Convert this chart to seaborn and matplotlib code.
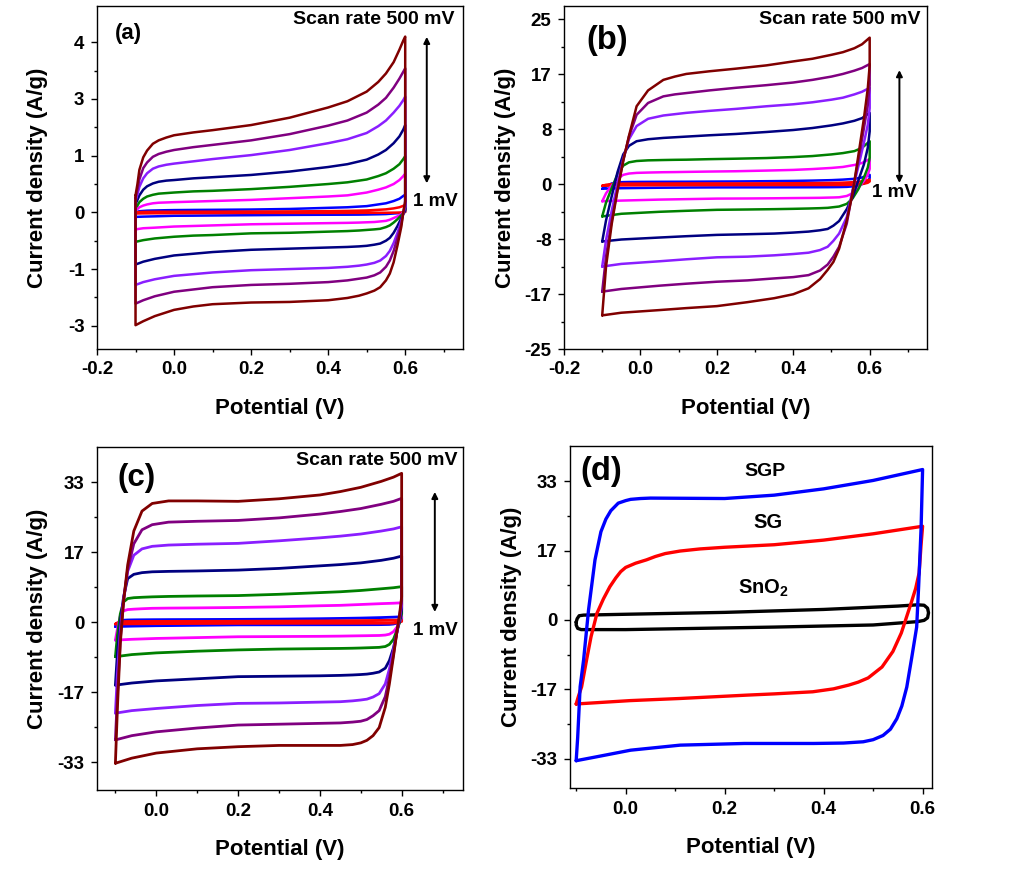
import matplotlib
matplotlib.use("Agg")
import pandas as pd
import matplotlib.pyplot as plt
import seaborn as sns

## Data (current vs potential loops)
rates = ["500 mV", "200 mV", "100 mV", "50 mV", "20 mV", "10 mV", "5 mV", "1 mV"]
rate_colors = ["#800000", "#800080", "#8A1EFF", "#000080", "#008000", "#FF00FF", "#0000FF", "#FF0000"]
draw_order = ["5 mV", "1 mV", "10 mV", "20 mV", "50 mV", "100 mV", "200 mV", "500 mV"]

# panel (a): y in tick steps (tick labels 4, 3, 1, 0, -1, -3)
a_x_up = [-0.1, -0.095, -0.09, -0.08, -0.07, -0.055, -0.04, -0.02, 0.0, 0.05, 0.1, 0.2, 0.3,
          0.4, 0.45, 0.5, 0.53, 0.55, 0.57, 0.585, 0.595, 0.6]
a_up = [
    [0.3, 0.5, 0.75, 0.97, 1.09, 1.21, 1.27, 1.32, 1.36, 1.41, 1.45, 1.54, 1.67, 1.85, 1.96, 2.13, 2.3, 2.45, 2.65, 2.87, 3.03, 3.1],
    [0.25, 0.4, 0.58, 0.78, 0.88, 0.98, 1.03, 1.07, 1.1, 1.15, 1.19, 1.27, 1.38, 1.53, 1.62, 1.76, 1.9, 2.02, 2.2, 2.36, 2.48, 2.54],
    [0.2, 0.32, 0.45, 0.6, 0.69, 0.77, 0.81, 0.84, 0.86, 0.9, 0.94, 1.01, 1.1, 1.22, 1.29, 1.4, 1.52, 1.62, 1.76, 1.88, 1.98, 2.04],
    [0.15, 0.22, 0.3, 0.4, 0.46, 0.51, 0.54, 0.56, 0.57, 0.6, 0.62, 0.66, 0.72, 0.8, 0.85, 0.93, 1.02, 1.1, 1.22, 1.34, 1.46, 1.54],
    [0.08, 0.12, 0.18, 0.24, 0.28, 0.31, 0.33, 0.34, 0.35, 0.37, 0.38, 0.41, 0.45, 0.5, 0.53, 0.58, 0.64, 0.69, 0.77, 0.85, 0.94, 0.99],
    [0.04, 0.06, 0.09, 0.12, 0.14, 0.16, 0.17, 0.175, 0.18, 0.19, 0.2, 0.22, 0.25, 0.28, 0.3, 0.35, 0.4, 0.44, 0.5, 0.57, 0.64, 0.68],
    [0.0, 0.01, 0.02, 0.025, 0.03, 0.033, 0.035, 0.038, 0.04, 0.043, 0.045, 0.05, 0.06, 0.08, 0.09, 0.11, 0.14, 0.16, 0.2, 0.24, 0.29, 0.31],
    [0.0, 0.003, 0.005, 0.007, 0.008, 0.009, 0.01, 0.01, 0.01, 0.011, 0.012, 0.014, 0.017, 0.022, 0.026, 0.034, 0.045, 0.053, 0.07, 0.09, 0.115, 0.13],
]
a_x_down = [0.6, 0.595, 0.59, 0.58, 0.57, 0.56, 0.55, 0.535, 0.52, 0.5, 0.48, 0.45, 0.4, 0.3, 0.2,
            0.1, 0.05, 0.0, -0.05, -0.08, -0.1]
a_down = [
    [0.2, 0.0, -0.25, -0.58, -0.88, -1.08, -1.2, -1.32, -1.38, -1.43, -1.47, -1.51, -1.55, -1.58, -1.59, -1.62, -1.66, -1.72, -1.83, -1.92, -1.99],
    [0.15, 0.0, -0.2, -0.45, -0.68, -0.85, -0.96, -1.06, -1.11, -1.15, -1.17, -1.2, -1.23, -1.26, -1.28, -1.32, -1.36, -1.4, -1.48, -1.55, -1.61],
    [0.1, -0.02, -0.15, -0.36, -0.54, -0.68, -0.77, -0.85, -0.89, -0.92, -0.94, -0.96, -0.98, -1.0, -1.02, -1.06, -1.09, -1.12, -1.18, -1.23, -1.28],
    [0.05, -0.03, -0.1, -0.24, -0.36, -0.45, -0.5, -0.55, -0.57, -0.59, -0.6, -0.61, -0.62, -0.64, -0.66, -0.7, -0.73, -0.76, -0.82, -0.87, -0.92],
    [0.03, -0.02, -0.05, -0.12, -0.18, -0.23, -0.26, -0.29, -0.3, -0.31, -0.32, -0.33, -0.34, -0.36, -0.37, -0.4, -0.41, -0.43, -0.46, -0.49, -0.52],
    [0.02, 0.0, -0.03, -0.07, -0.1, -0.13, -0.15, -0.16, -0.17, -0.175, -0.18, -0.185, -0.19, -0.2, -0.21, -0.23, -0.24, -0.25, -0.27, -0.28, -0.3],
    [0.01, 0.0, -0.01, -0.015, -0.02, -0.025, -0.03, -0.033, -0.035, -0.038, -0.04, -0.041, -0.042, -0.045, -0.05, -0.055, -0.058, -0.06, -0.07, -0.075, -0.08],
    [0.005, 0.0, -0.003, -0.004, -0.005, -0.006, -0.007, -0.007, -0.008, -0.008, -0.009, -0.009, -0.01, -0.01, -0.01, -0.012, -0.013, -0.014, -0.016, -0.018, -0.02],
]
a_ticks = [3, 2, 1, 0, -1, -2]
a_ticklabels = ["4", "3", "1", "0", "-1", "-3"]

# panel (b)
b_x_up = [-0.1, -0.09, -0.075, -0.06, -0.045, -0.03, -0.01, 0.02, 0.06, 0.09, 0.12, 0.18, 0.25,
          0.33, 0.4, 0.45, 0.5, 0.53, 0.56, 0.58, 0.6]
b_up = [
    [-19.9, -12.5, -6.0, -1.0, 3.5, 7.3, 11.8, 14.2, 15.8, 16.3, 16.7, 17.1, 17.5, 18.0, 18.6, 19.0, 19.6, 20.0, 20.6, 21.2, 22.2],
    [-16.3, -11.0, -5.5, -0.8, 3.6, 7.2, 10.5, 12.3, 13.3, 13.6, 13.8, 14.2, 14.6, 15.0, 15.4, 15.8, 16.3, 16.7, 17.2, 17.6, 18.2],
    [-12.5, -8.5, -4.0, 0.0, 3.8, 6.8, 8.8, 9.9, 10.4, 10.6, 10.8, 11.1, 11.4, 11.8, 12.1, 12.4, 12.8, 13.1, 13.6, 14.0, 14.6],
    [-8.7, -5.5, -1.8, 1.8, 4.5, 5.8, 6.5, 6.8, 7.0, 7.1, 7.2, 7.4, 7.6, 7.9, 8.2, 8.5, 8.9, 9.2, 9.6, 10.0, 10.8],
    [-4.9, -2.8, -0.6, 1.5, 2.8, 3.3, 3.5, 3.6, 3.65, 3.68, 3.7, 3.78, 3.85, 3.95, 4.1, 4.25, 4.5, 4.7, 5.0, 5.5, 6.5],
    [-2.6, -1.4, -0.2, 0.8, 1.4, 1.6, 1.7, 1.75, 1.8, 1.82, 1.85, 1.9, 1.95, 2.05, 2.15, 2.28, 2.45, 2.6, 2.9, 3.2, 3.8],
    [-0.7, -0.3, 0.1, 0.25, 0.3, 0.32, 0.33, 0.34, 0.35, 0.355, 0.36, 0.38, 0.4, 0.44, 0.48, 0.53, 0.6, 0.68, 0.8, 1.0, 1.4],
    [-0.25, -0.1, 0.0, 0.05, 0.07, 0.08, 0.08, 0.09, 0.09, 0.095, 0.1, 0.1, 0.1, 0.11, 0.13, 0.15, 0.18, 0.22, 0.3, 0.42, 0.66],
]
b_x_down = [0.6, 0.595, 0.585, 0.57, 0.555, 0.54, 0.52, 0.505, 0.49, 0.47, 0.44, 0.4, 0.35, 0.28,
            0.2, 0.12, 0.05, -0.05, -0.1]
b_down = [
    [18.0, 14.5, 10.0, 4.2, -1.5, -5.5, -9.8, -11.8, -13.0, -14.4, -15.8, -16.7, -17.3, -17.9, -18.5, -18.8, -19.1, -19.5, -19.9],
    [15.0, 12.0, 8.5, 3.5, -1.2, -6.0, -9.5, -11.0, -12.2, -13.1, -13.8, -14.1, -14.3, -14.6, -14.8, -15.1, -15.4, -15.9, -16.3],
    [11.5, 9.0, 6.3, 2.6, -1.0, -5.0, -7.5, -8.6, -9.5, -10.0, -10.4, -10.6, -10.8, -11.0, -11.1, -11.4, -11.7, -12.1, -12.5],
    [8.0, 5.5, 3.0, 0.5, -2.0, -3.8, -5.6, -6.3, -6.8, -7.0, -7.2, -7.35, -7.5, -7.6, -7.7, -7.9, -8.1, -8.4, -8.7],
    [4.0, 2.5, 1.0, -0.8, -2.2, -3.0, -3.4, -3.5, -3.6, -3.65, -3.7, -3.75, -3.8, -3.85, -3.9, -4.05, -4.2, -4.5, -4.9],
    [2.3, 1.4, 0.5, -0.6, -1.4, -1.8, -2.0, -2.03, -2.05, -2.08, -2.1, -2.12, -2.15, -2.18, -2.2, -2.28, -2.35, -2.5, -2.6],
    [0.9, 0.5, 0.1, -0.2, -0.35, -0.42, -0.45, -0.46, -0.47, -0.475, -0.48, -0.485, -0.49, -0.495, -0.5, -0.52, -0.55, -0.62, -0.7],
    [0.4, 0.2, 0.05, -0.05, -0.1, -0.12, -0.13, -0.13, -0.13, -0.135, -0.14, -0.14, -0.14, -0.145, -0.15, -0.16, -0.17, -0.2, -0.25],
]
b_ticks = [25, 50 / 3, 25 / 3, 0, -25 / 3, -50 / 3, -25]
b_ticklabels = ["25", "17", "8", "0", "-8", "-17", "-25"]

# panel (c)
c_x_up = [-0.1, -0.095, -0.088, -0.08, -0.07, -0.055, -0.035, -0.01, 0.03, 0.1, 0.2, 0.3, 0.4,
          0.45, 0.5, 0.55, 0.58, 0.6]
c_up = [
    [-33.2, -20, -5, 5, 13.5, 21.5, 26.2, 28.0, 28.6, 28.6, 28.5, 29.1, 30.0, 30.8, 31.8, 33.2, 34.2, 35.1],
    [-27.7, -17, -4, 5, 12.5, 18.5, 21.8, 23.0, 23.6, 23.8, 24.0, 24.6, 25.5, 26.1, 26.8, 27.8, 28.5, 29.2],
    [-21.4, -12, -2, 5.5, 12.0, 15.8, 17.3, 17.9, 18.2, 18.4, 18.6, 19.2, 19.9, 20.3, 20.8, 21.5, 22.0, 22.5],
    [-14.8, -7, 0, 6, 10.3, 11.3, 11.7, 11.9, 12.0, 12.1, 12.3, 12.7, 13.3, 13.6, 14.0, 14.6, 15.1, 15.6],
    [-8.1, -3, 2, 4.8, 5.6, 5.8, 5.9, 6.0, 6.1, 6.2, 6.3, 6.6, 7.0, 7.2, 7.5, 7.9, 8.15, 8.4],
    [-4.2, -1.5, 1.5, 2.7, 3.0, 3.1, 3.2, 3.3, 3.35, 3.4, 3.5, 3.65, 3.9, 4.0, 4.2, 4.4, 4.5, 4.6],
    [-1.0, -0.3, 0.3, 0.5, 0.55, 0.58, 0.6, 0.62, 0.64, 0.66, 0.7, 0.75, 0.85, 0.92, 1.0, 1.12, 1.22, 1.3],
    [-0.4, -0.1, 0.1, 0.18, 0.2, 0.2, 0.21, 0.22, 0.22, 0.23, 0.25, 0.28, 0.33, 0.36, 0.4, 0.46, 0.51, 0.55],
]
c_x_down = [0.6, 0.595, 0.588, 0.58, 0.57, 0.56, 0.545, 0.53, 0.515, 0.5, 0.48, 0.45, 0.4, 0.3,
            0.2, 0.1, 0.0, -0.06, -0.1]
c_down = [
    [6.0, 2.0, -2.5, -8.0, -14.5, -20.0, -24.8, -26.7, -27.8, -28.4, -28.8, -29.0, -29.0, -29.0, -29.3, -29.8, -30.8, -32.0, -33.2],
    [5.0, 1.5, -2.5, -7.5, -13.0, -17.5, -20.8, -22.0, -22.9, -23.3, -23.5, -23.7, -23.8, -24.0, -24.2, -24.9, -25.8, -26.7, -27.7],
    [4.0, 1.0, -2.5, -6.5, -11.0, -14.5, -16.8, -17.6, -18.1, -18.3, -18.5, -18.7, -18.8, -19.0, -19.1, -19.6, -20.3, -20.8, -21.4],
    [3.0, 0.5, -2.5, -6.0, -9.0, -10.8, -11.7, -12.0, -12.2, -12.3, -12.4, -12.5, -12.6, -12.7, -12.8, -13.3, -13.8, -14.3, -14.8],
    [2.0, 0.0, -2.0, -4.0, -5.2, -5.7, -5.9, -5.95, -6.0, -6.05, -6.1, -6.15, -6.2, -6.3, -6.5, -6.8, -7.2, -7.6, -8.1],
    [1.2, 0.0, -1.2, -2.2, -2.8, -3.0, -3.1, -3.12, -3.15, -3.17, -3.2, -3.25, -3.3, -3.35, -3.4, -3.6, -3.8, -4.0, -4.2],
    [0.5, 0.1, -0.2, -0.4, -0.5, -0.52, -0.55, -0.555, -0.56, -0.565, -0.57, -0.575, -0.58, -0.59, -0.6, -0.7, -0.8, -0.9, -1.0],
    [0.2, 0.05, -0.1, -0.17, -0.2, -0.21, -0.22, -0.22, -0.22, -0.225, -0.23, -0.23, -0.23, -0.24, -0.25, -0.28, -0.32, -0.36, -0.4],
]
cd_ticks = [33, 16.5, 0, -16.5, -33]
cd_ticklabels = ["33", "17", "0", "-17", "-33"]

# panel (d): SGP, SG, SnO2
sgp_x_up = [-0.1, -0.097, -0.092, -0.085, -0.075, -0.062, -0.05, -0.04, -0.03, -0.015, 0.0, 0.01,
            0.03, 0.05, 0.2, 0.3, 0.4, 0.5, 0.6]
sgp_up = [-33.5, -28, -15.9, -9.5, 2.4, 14.3, 21, 24, 26.0, 27.8, 28.4, 28.7, 28.9, 29.0, 28.9,
          29.7, 31.2, 33.2, 35.8]
sgp_x_down = [0.6, 0.597, 0.592, 0.588, 0.578, 0.568, 0.558, 0.548, 0.535, 0.52, 0.5, 0.48, 0.44,
              0.38, 0.3, 0.24, 0.11, 0.01, -0.06, -0.1]
sgp_down = [35.8, 22, 8, -1.7, -9, -16, -20.5, -23.5, -26.0, -27.5, -28.5, -29.0, -29.3, -29.4,
            -29.4, -29.4, -29.8, -31.0, -32.6, -33.5]

sg_x_up = [-0.1, -0.095, -0.089, -0.079, -0.07, -0.058, -0.045, -0.032, -0.02, -0.01, 0.0, 0.02,
           0.042, 0.06, 0.08, 0.11, 0.15, 0.2, 0.3, 0.4, 0.5, 0.6]
sg_up = [-20.0, -18, -15.9, -9.5, -4, 1.6, 5.0, 7.9, 10.0, 11.5, 12.5, 13.5, 14.3, 15.1, 15.8,
         16.4, 16.9, 17.3, 17.9, 19.0, 20.5, 22.3]
sg_x_down = [0.6, 0.597, 0.593, 0.586, 0.577, 0.567, 0.557, 0.54, 0.518, 0.49, 0.47, 0.451, 0.42,
             0.378, 0.3, 0.244, 0.109, 0.009, -0.1]
sg_down = [22.3, 18, 11.2, 7.5, 4.1, 0.5, -3.1, -7.5, -11.2, -13.8, -14.8, -15.5, -16.4, -17.1,
           -17.6, -17.9, -18.7, -19.2, -20.0]

sno2_x_up = [-0.1, -0.098, -0.094, -0.085, 0.0, 0.2, 0.4, 0.55, 0.59, 0.603, 0.61, 0.612]
sno2_up = [-0.5, 0.3, 1.0, 1.15, 1.35, 1.8, 2.5, 3.3, 3.6, 3.5, 2.8, 1.7]
sno2_x_down = [0.61, 0.603, 0.59, 0.5, 0.3, 0.1, 0.0, -0.09, -0.097, -0.1]
sno2_down = [0.5, -0.1, -0.4, -1.2, -1.7, -2.1, -2.3, -2.3, -2.0, -1.2]

samples = ["SnO2", "SG", "SGP"]
sample_colors = {"SnO2": "black", "SG": "#FF0000", "SGP": "#0000FF"}


def loop_frame(names, loops):
    rows = []
    for name, (xu, yu, xd, yd) in zip(names, loops):
        xs = xu + xd + [xu[0]]
        ys = yu + yd + [yu[0]]
        for x, y in zip(xs, ys):
            rows.append((name, x, y))
    return pd.DataFrame(rows, columns=["sample", "potential", "current"])


def rate_frame(x_up, ups, x_down, downs):
    return loop_frame(rates, [(x_up, u, x_down, d) for u, d in zip(ups, downs)])


## Style
sns.set_theme(style="ticks", rc={"axes.edgecolor": "black", "xtick.color": "black",
                                 "ytick.color": "black", "text.color": "black",
                                 "axes.labelcolor": "black"})
plt.rcParams["font.family"] = ["Liberation Sans", "DejaVu Sans"]
plt.rcParams["font.weight"] = "bold"
plt.rcParams["axes.labelweight"] = "bold"
plt.rcParams["mathtext.fontset"] = "custom"
plt.rcParams["mathtext.rm"] = "Liberation Sans:bold"
plt.rcParams["mathtext.bf"] = "Liberation Sans:bold"

W, H = 1010, 871
fig = plt.figure(figsize=(W / 100, H / 100), dpi=100)


def make_axes(l, r, t, b):
    return fig.add_axes([l / W, 1 - b / H, (r - l) / W, (b - t) / H])


def style_axes(ax, xlim, xmaj, xmin, ylim, yticks, ylabels, ymin):
    ax.set_xlim(*xlim)
    ax.set_ylim(*ylim)
    ax.set_xticks(xmaj)
    ax.set_xticklabels([f"{v:.1f}" for v in xmaj])
    ax.set_xticks(xmin, minor=True)
    ax.set_yticks(yticks)
    ax.set_yticklabels(ylabels)
    ax.set_yticks(ymin, minor=True)
    ax.tick_params(which="both", direction="out", width=1, labelsize=13.5, pad=5)
    ax.tick_params(which="major", length=4)
    ax.tick_params(which="minor", length=2.5)
    for s in ax.spines.values():
        s.set_linewidth(1)
    ax.set_xlabel("Potential (V)", fontsize=16)
    ax.set_ylabel("Current density (A/g)", fontsize=16)
    ax.xaxis.set_label_coords(0.5, -0.142)
    ax.yaxis.set_label_coords(-0.133, 0.5)


def scan_notes(ax, tag, tag_xy, tag_size, note_x, arrow_x, arrow_y, mv_xy):
    ax.text(tag_xy[0], tag_xy[1], tag, transform=ax.transAxes, fontsize=tag_size,
            fontweight="bold", ha="left", va="center")
    ax.text(note_x, 0.96, "Scan rate 500 mV", transform=ax.transAxes, fontsize=14,
            fontweight="bold", ha="right", va="center")
    ax.text(mv_xy[0], mv_xy[1], "1 mV", transform=ax.transAxes, fontsize=13.5,
            fontweight="bold", ha="left", va="center")
    ax.annotate("", xy=(arrow_x, arrow_y[0]), xytext=(arrow_x, arrow_y[1]),
                xycoords="axes fraction",
                arrowprops=dict(arrowstyle="<|-|>", color="black", lw=1.4,
                                mutation_scale=9, shrinkA=0, shrinkB=0))


palette = dict(zip(rates, rate_colors))
line_kw = dict(sort=False, estimator=None, legend=False, solid_joinstyle="round",
               solid_capstyle="round")

## (a)
ax_a = make_axes(97, 463, 6, 349)
sns.lineplot(data=rate_frame(a_x_up, a_up, a_x_down, a_down), x="potential", y="current",
             hue="sample", hue_order=draw_order, palette=palette, linewidth=1.8, ax=ax_a,
             **line_kw)
style_axes(ax_a, (-0.2, 0.75), [-0.2, 0.0, 0.2, 0.4, 0.6], [-0.1, 0.1, 0.3, 0.5, 0.7],
           (-2.41, 3.64), a_ticks, a_ticklabels, [2.5, 1.5, 0.5, -0.5, -1.5])
scan_notes(ax_a, "(a)", (0.049, 0.921), 16, 0.978, 0.901, (0.91, 0.483), (0.863, 0.431))

## (b)
ax_b = make_axes(564, 927, 6, 349)
sns.lineplot(data=rate_frame(b_x_up, b_up, b_x_down, b_down), x="potential", y="current",
             hue="sample", hue_order=draw_order, palette=palette, linewidth=1.8, ax=ax_b,
             **line_kw)
style_axes(ax_b, (-0.2, 0.75), [-0.2, 0.0, 0.2, 0.4, 0.6], [-0.1, 0.1, 0.3, 0.5, 0.7],
           (-25, 27), b_ticks, b_ticklabels, [125 / 6, 75 / 6, 25 / 6, -25 / 6, -75 / 6, -125 / 6])
scan_notes(ax_b, "(b)", (0.063, 0.90), 23.5, 0.983, 0.924, (0.813, 0.484), (0.848, 0.456))

## (c)
ax_c = make_axes(97, 463, 447, 790)
sns.lineplot(data=rate_frame(c_x_up, c_up, c_x_down, c_down), x="potential", y="current",
             hue="sample", hue_order=draw_order, palette=palette, linewidth=2.0, ax=ax_c,
             **line_kw)
style_axes(ax_c, (-0.145, 0.75), [0.0, 0.2, 0.4, 0.6], [-0.1, 0.1, 0.3, 0.5, 0.7],
           (-39.5, 41.3), cd_ticks, cd_ticklabels, [24.75, 8.25, -8.25, -24.75])
scan_notes(ax_c, "(c)", (0.057, 0.91), 22.5, 0.986, 0.923, (0.869, 0.519), (0.863, 0.464))

## (d)
ax_d = make_axes(570, 932, 446, 788)
df_d = loop_frame(samples, [(sno2_x_up, sno2_up, sno2_x_down, sno2_down),
                            (sg_x_up, sg_up, sg_x_down, sg_down),
                            (sgp_x_up, sgp_up, sgp_x_down, sgp_down)])
sns.lineplot(data=df_d, x="potential", y="current", hue="sample", hue_order=samples,
             palette=sample_colors, linewidth=2.4, ax=ax_d, **line_kw)
style_axes(ax_d, (-0.1125, 0.619), [0.0, 0.2, 0.4, 0.6], [-0.1, 0.1, 0.3, 0.5],
           (-40, 41.4), cd_ticks, cd_ticklabels, [24.75, 8.25, -8.25, -24.75])
ax_d.text(0.028, 0.924, "(d)", transform=ax_d.transAxes, fontsize=23.5,
          fontweight="bold", ha="left", va="center")
ax_d.text(0.539, 0.924, "SGP", transform=ax_d.transAxes, fontsize=14,
          fontweight="bold", ha="center", va="center")
ax_d.text(0.547, 0.776, "SG", transform=ax_d.transAxes, fontsize=14.5,
          fontweight="bold", ha="center", va="center")
ax_d.text(0.464, 0.585, r"SnO$_2$", transform=ax_d.transAxes, fontsize=14.5,
          fontweight="bold", ha="left", va="center")

plt.savefig("out.png", dpi=100)
